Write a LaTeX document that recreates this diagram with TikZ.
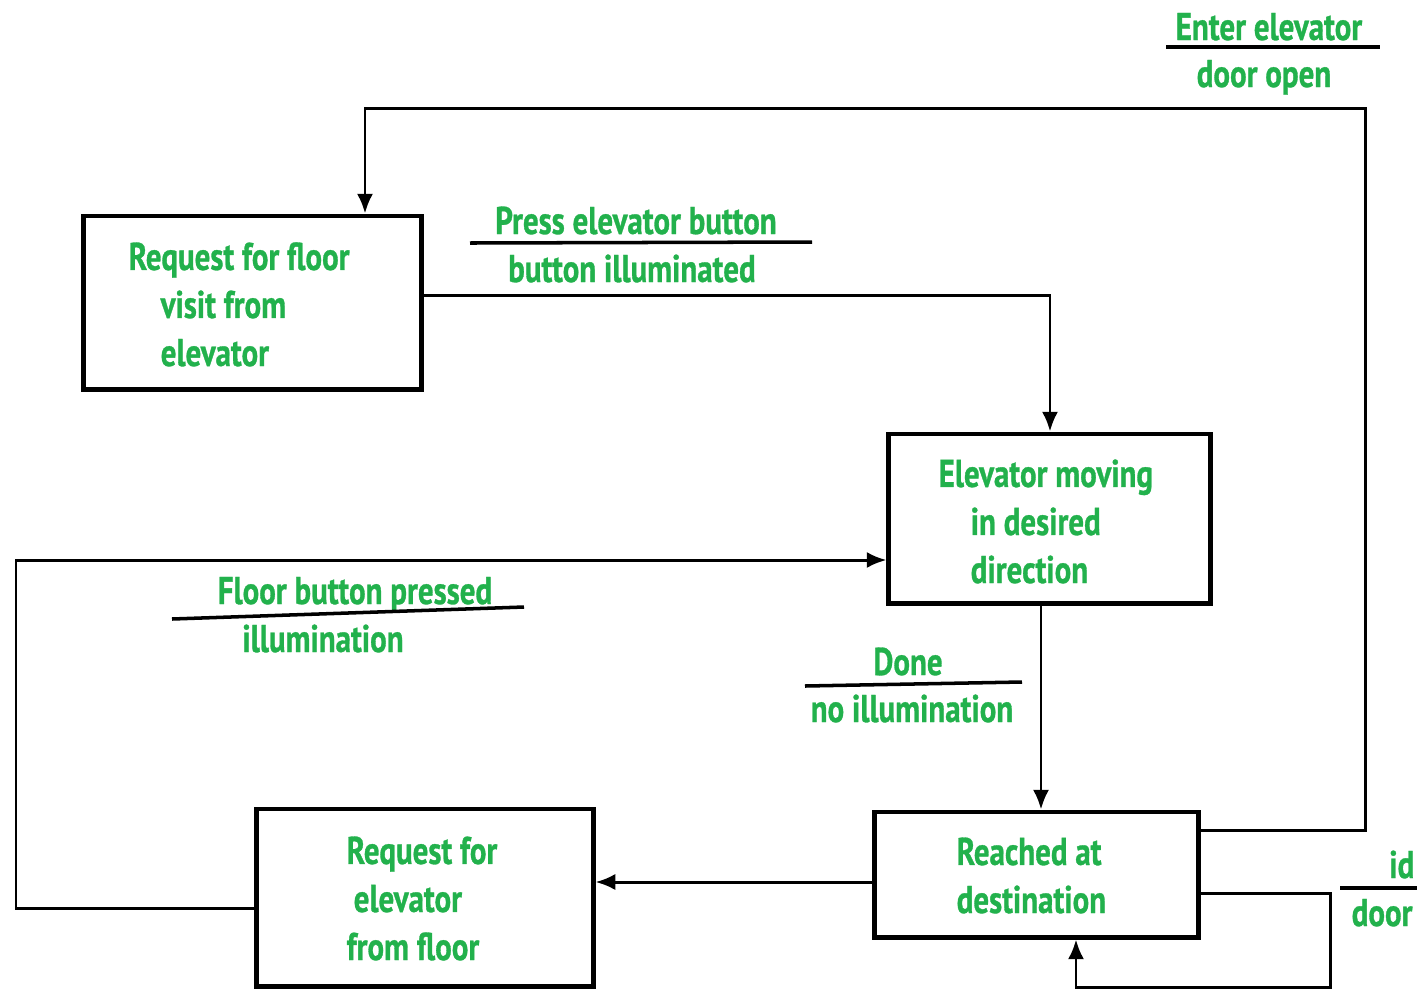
\documentclass[tikz,border=0pt]{standalone}
\usepackage{fontspec}
\usetikzlibrary{arrows.meta}
\newfontfamily\lblfont{PT Sans}[FakeStretch=0.8,FakeBold=0.8]
\definecolor{lblgreen}{RGB}{34,177,76}
\begin{document}
\begin{tikzpicture}[x=0.01cm,y=-0.01cm,
  statebox/.style={draw=black,line width=1.4pt,inner sep=0pt,fill=none},
  conn/.style={draw=black,line width=0.85pt},
  arr/.style={conn,-{Latex[length=5.6pt,width=4.6pt]}},
  bar/.style={draw=black,line width=1pt},
  txt/.style={text=lblgreen,inner sep=0pt,align=left,
    font=\lblfont\bfseries\fontsize{11}{13.66}\selectfont},
  lbl/.style={txt,anchor=base}]
\useasboundingbox (0,0) rectangle (1417,993);
\fill[white] (0,0) rectangle (1417,993);

% states
\node[statebox,minimum width=3.37cm,minimum height=1.73cm] (b1) at (252.5,302.5) {};
\node[statebox,minimum width=3.21cm,minimum height=1.69cm] (b2) at (1049.5,518.5) {};
\node[statebox,minimum width=3.23cm,minimum height=1.25cm] (b3) at (1036.5,874.5) {};
\node[statebox,minimum width=3.36cm,minimum height=1.77cm] (b4) at (425,897.5) {};

% state names (anchored at the baseline of their last line)
\node[txt,anchor=base west] (t1) at (128,366)
  {Request for floor\\\hspace*{0.32cm}visit from\\\hspace*{0.32cm}elevator};
\node[txt,anchor=base west] (t2) at (938,583)
  {Elevator moving\\\hspace*{0.32cm}in desired\\\hspace*{0.32cm}direction};
\node[txt,anchor=base west] (t3) at (956,913)
  {Reached at\\destination};
\node[txt,anchor=base west] (t4) at (346,960)
  {Request for\\\hspace*{0.07cm}elevator\\from floor};

% bend points
\coordinate (c1) at (1050,295);
\coordinate (c2) at (1041,0);
\coordinate (c3) at (0,882);
\coordinate (c4a) at (16,908);
\coordinate (c4b) at (16,560);
\coordinate (c5a) at (1365,830);
\coordinate (c5b) at (1365,108);
\coordinate (c5c) at (365,108);
\coordinate (c6a) at (1330,893);
\coordinate (c6b) at (1330,987);
\coordinate (c6c) at (1076,987);

% transitions
\draw[arr] (b1.east |- c1) -- (c1) -- (b2.north -| c1);
\draw[arr] (b2.south -| c2) -- (b3.north -| c2);
\draw[arr] (b3.west |- c3) -- (b4.east |- c3);
\draw[arr] (b4.west |- c4a) -- (c4a) -- (c4b) -- (b2.west |- c4b);
\draw[arr] (b3.east |- c5a) -- (c5a) -- (c5b) -- (c5c) -- (b1.north -| c5c);
\draw[arr] (b3.east |- c6a) -- (c6a) -- (c6b) -- (c6c) -- (b3.south -| c6c);

% event / action labels
\node[lbl] (l1a) at (1269,40) {Enter elevator};
\node[lbl] (l1b) at (1264,87) {door open};
\draw[bar] (1166,47) -- (1380,47);

\node[lbl] (l2a) at (636,234) {Press elevator button};
\node[lbl] (l2b) at (632,282) {button illuminated};
\draw[bar] (470,243) -- (812,242);

\node[lbl] (l3a) at (355,604) {Floor button pressed};
\node[lbl] (l3b) at (323,652) {illumination};
\draw[bar] (172,619) -- (524,607);

\node[lbl] (l4a) at (908,675) {Done};
\node[lbl] (l4b) at (912,722) {no illumination};
\draw[bar] (805,686) -- (1022,682);

\node[txt,anchor=base east] (l5a) at (1415,878) {id};
\node[txt,anchor=base west] (l5b) at (1351,926) {door};
\draw[bar] (1340,888) -- (1417,888);
\end{tikzpicture}
\end{document}
